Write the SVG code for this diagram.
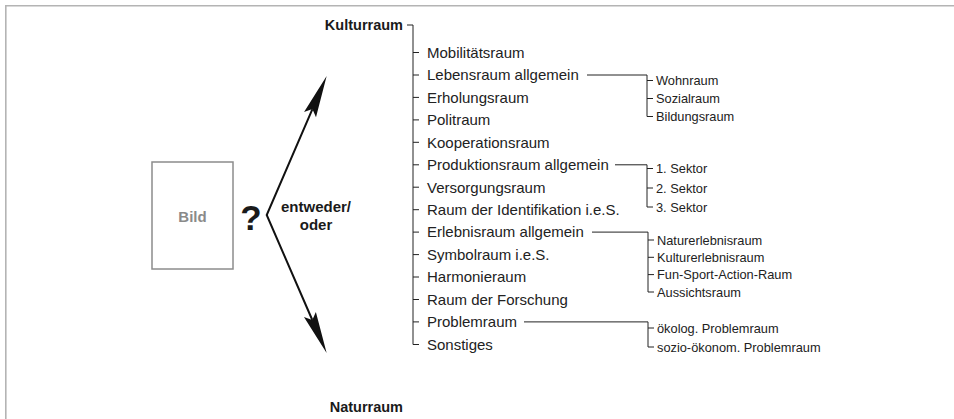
<svg xmlns="http://www.w3.org/2000/svg" width="954" height="419" viewBox="0 0 954 419">
<defs>
<style>
.frame{fill:none;stroke:#b4b4b4;stroke-width:1.6}
.br{fill:none;stroke:#222;stroke-width:1}
.arr{fill:none;stroke:#111;stroke-width:2;stroke-linejoin:miter}
.main{font-family:"Liberation Sans",Arial,sans-serif;font-size:15px;fill:#222}
.sub{font-family:"Liberation Sans",Arial,sans-serif;font-size:12.8px;fill:#222}
.bold{font-family:"Liberation Sans",Arial,sans-serif;font-weight:bold;fill:#1a1a1a}
</style>
<marker id="ah" markerUnits="userSpaceOnUse" markerWidth="50" markerHeight="20" refX="6" refY="0" viewBox="-2 -10 50 20" orient="auto-start-reverse">
<path d="M42,0 L0,-6.5 L6,0 L0,6.5 Z" fill="#111"/>
</marker>
</defs>
<rect width="954" height="419" fill="#fff"/>
<path class="frame" d="M954,5.8 H5.8 V419"/>

<g id="bild">
<rect x="152" y="162" width="81" height="107" fill="#fff" stroke="#8c8c8c" stroke-width="1.5"/>
<text class="bold" x="192.5" y="222" font-size="15" text-anchor="middle" style="fill:#8a8a8a">Bild</text>
</g>
<g id="frage">
<text class="bold" x="251" y="230" font-size="35" text-anchor="middle">?</text>
</g>
<g id="entweder-oder">
<text class="bold" x="316" y="212" font-size="15" text-anchor="middle">entweder/</text>
<text class="bold" x="316" y="230" font-size="15" text-anchor="middle">oder</text>
</g>
<g id="kulturraum">
<text class="bold" x="403" y="30" font-size="14.5" text-anchor="end">Kulturraum</text>
</g>
<g id="naturraum">
<text class="bold" x="403" y="412" font-size="14.5" text-anchor="end">Naturraum</text>
</g>

<g id="connectors">
<path class="arr" d="M312.4,109.1 L266.7,215 L312.3,320" marker-start="url(#ah)" marker-end="url(#ah)"/>
<path class="br" d="M407,25 H413 V344.5 H419 M413,52.5 H419 M413,75 H419 M413,97.4 H419 M413,119.9 H419 M413,142.3 H419 M413,164.8 H419 M413,187.2 H419 M413,209.7 H419 M413,232.1 H419 M413,254.6 H419 M413,277 H419 M413,299.5 H419 M413,321.9 H419"/>
<path class="br" d="M587,75 H647 V116.5 H653 M647,80.5 H653 M647,98.5 H653"/>
<path class="br" d="M615,164.8 H647 V207 H653 M647,168.5 H653 M647,188 H653"/>
<path class="br" d="M592,232.1 H648 V292 H654 M648,240 H654 M648,257.3 H654 M648,274.6 H654"/>
<path class="br" d="M524,321.9 H648 V347 H654 M648,328 H654"/>
</g>

<g id="items">
<text class="main" x="427" y="57.8">Mobilitätsraum</text>
<text class="main" x="427" y="80.3">Lebensraum allgemein</text>
<text class="main" x="427" y="102.7">Erholungsraum</text>
<text class="main" x="427" y="125.2">Politraum</text>
<text class="main" x="427" y="147.6">Kooperationsraum</text>
<text class="main" x="427" y="170.1">Produktionsraum allgemein</text>
<text class="main" x="427" y="192.5">Versorgungsraum</text>
<text class="main" x="427" y="215">Raum der Identifikation i.e.S.</text>
<text class="main" x="427" y="237.4">Erlebnisraum allgemein</text>
<text class="main" x="427" y="259.9">Symbolraum i.e.S.</text>
<text class="main" x="427" y="282.3">Harmonieraum</text>
<text class="main" x="427" y="304.8">Raum der Forschung</text>
<text class="main" x="427" y="327.2">Problemraum</text>
<text class="main" x="427" y="349.7">Sonstiges</text>
</g>

<g id="sub-lebensraum">
<text class="sub" x="656" y="85">Wohnraum</text>
<text class="sub" x="656" y="103">Sozialraum</text>
<text class="sub" x="656" y="121">Bildungsraum</text>
</g>
<g id="sub-produktion">
<text class="sub" x="656" y="173">1. Sektor</text>
<text class="sub" x="656" y="192.5">2. Sektor</text>
<text class="sub" x="656" y="211.5">3. Sektor</text>
</g>
<g id="sub-erlebnis">
<text class="sub" x="657" y="244.5">Naturerlebnisraum</text>
<text class="sub" x="657" y="261.8">Kulturerlebnisraum</text>
<text class="sub" x="657" y="279.1">Fun-Sport-Action-Raum</text>
<text class="sub" x="657" y="296.5">Aussichtsraum</text>
</g>
<g id="sub-problem">
<text class="sub" x="657" y="332.5">ökolog. Problemraum</text>
<text class="sub" x="657" y="351.5">sozio-ökonom. Problemraum</text>
</g>
</svg>
